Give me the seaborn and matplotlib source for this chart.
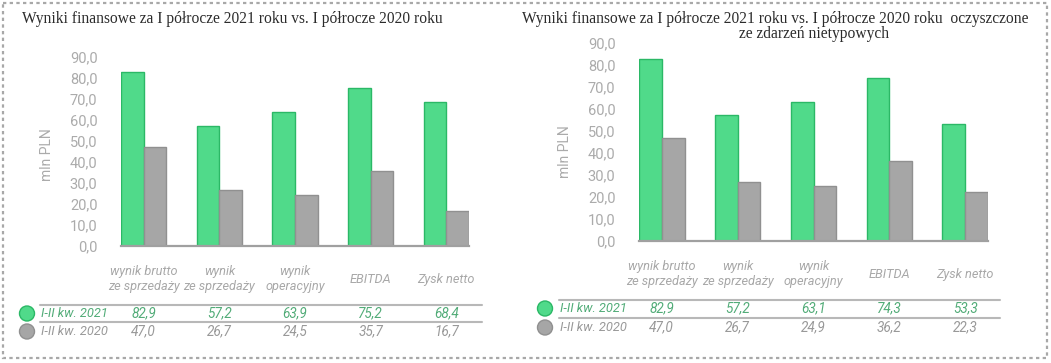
import matplotlib
matplotlib.use("Agg")
import matplotlib.pyplot as plt
import matplotlib.transforms as mtransforms
from matplotlib.patches import Circle, Rectangle
from matplotlib.ticker import FuncFormatter
import numpy as np
import pandas as pd
import seaborn as sns

# data
categories = ["wynik brutto\nze sprzedaży", "wynik\nze sprzedaży", "wynik\noperacyjny", "EBITDA", "Zysk netto"]
series_names = ["I-II kw. 2021", "I-II kw. 2020"]
left_2021 = [82.9, 57.2, 63.9, 75.2, 68.4]
left_2020 = [47.0, 26.7, 24.5, 35.7, 16.7]
right_2021 = [82.9, 57.2, 63.1, 74.3, 53.3]
right_2020 = [47.0, 26.7, 24.9, 36.2, 22.3]
left_title = "Wyniki finansowe za I półrocze 2021 roku vs. I półrocze 2020 roku"
right_title_1 = "Wyniki finansowe za I półrocze 2021 roku vs. I półrocze 2020 roku  oczyszczone"
right_title_2 = "ze zdarzeń nietypowych"
yticks = [0, 10, 20, 30, 40, 50, 60, 70, 80, 90]

GREEN = "#50da8a"
GREEN_EDGE = "#2bb866"
GREEN_TEXT = "#52ac78"
GRAY = "#a6a6a6"
GRAY_EDGE = "#909090"
TICK_GRAY = "#ababab"
LABEL_GRAY = "#a8a8a8"
W, H = 1051, 363

sns.set_theme(style="white")
plt.rcParams["font.family"] = ["Roboto", "DejaVu Sans"]

fig = plt.figure(figsize=(W / 100, H / 100), dpi=100)

# overlay in pixel coordinates for frame, titles and table
ov = fig.add_axes([0, 0, 1, 1])
ov.set_xlim(0, W)
ov.set_ylim(H, 0)
ov.axis("off")
ov.add_patch(Rectangle((3, 3), W - 7, H - 8, fill=False, edgecolor="#a8a8a8",
                       linewidth=1.6, linestyle=(0, (1.5, 1.5))))


def comma(v, pos=None):
    return f"{v:.1f}".replace(".", ",")


def panel(px_left, px_right, px_zero, px_top, v21, v20, ylab_x, ylab_y,
          tbl_x0, tbl_x1, line_y, row1_y, line2_y, row2_y, circ_x):
    ax = fig.add_axes([px_left / W, (H - px_zero) / H,
                       (px_right - px_left) / W, (px_zero - px_top) / H])
    df = pd.DataFrame({
        "kategoria": categories * 2,
        "okres": [series_names[0]] * 5 + [series_names[1]] * 5,
        "wartosc": v21 + v20,
    })
    sns.barplot(data=df, x="kategoria", y="wartosc", hue="okres",
                palette=[GREEN, GRAY], width=0.6, ax=ax, legend=False,
                saturation=1, linewidth=1)
    for cont, edge in zip(ax.containers, [GREEN_EDGE, GRAY_EDGE]):
        for bar in cont:
            bar.set_edgecolor(edge)
    ax.set_xlim(-0.3, 4.3)
    ax.set_ylim(0, 90)
    ax.set_yticks(yticks)
    ax.yaxis.set_major_formatter(FuncFormatter(comma))
    ax.set_xlabel("")
    ax.set_ylabel("")
    for s in ["top", "right", "left"]:
        ax.spines[s].set_visible(False)
    ax.spines["bottom"].set_color("#a0a0a0")
    ax.spines["bottom"].set_linewidth(1.6)
    ax.tick_params(axis="y", length=0, pad=17, labelsize=10.5, labelcolor=TICK_GRAY)
    ax.tick_params(axis="x", length=0, pad=24, labelsize=9.2, labelcolor=LABEL_GRAY)
    for lab in ax.get_xticklabels():
        lab.set_fontstyle("italic")
        lab.set_verticalalignment("center")
        lab.set_linespacing(1.2)

    ov.text(ylab_x, ylab_y, "mln PLN", rotation=90, ha="center", va="center",
            fontsize=10, color=TICK_GRAY)

    # table under the chart
    tr = mtransforms.blended_transform_factory(ax.transData, ov.transData)
    for y in (line_y, line2_y):
        ov.plot([tbl_x0, tbl_x1], [y, y], color="#b8b8b8", linewidth=1.5)
    rows = [(row1_y, v21, GREEN_TEXT, GREEN, GREEN_EDGE, series_names[0]),
            (row2_y, v20, "#999999", GRAY, GRAY_EDGE, series_names[1])]
    for y, vals, tcol, fcol, ecol, name in rows:
        ov.add_patch(Circle((circ_x, y), 7.5, facecolor=fcol, edgecolor=ecol, linewidth=1))
        ov.text(tbl_x0 + 1, y, name, ha="left", va="center", fontsize=9.3,
                fontstyle="italic", color=tcol)
        for i, v in enumerate(vals):
            ax.text(i, y, comma(v), transform=tr, ha="center", va="center",
                    fontsize=9.8, fontstyle="italic", color=tcol, clip_on=False)
    return ax


panel(121, 469, 246, 57, left_2021, left_2020, 47, 155,
      40, 482, 305, 313.5, 322, 331.5, 27)
panel(639, 988, 241, 43, right_2021, right_2020, 565, 152,
      559, 1000, 300, 308.5, 318, 327.5, 545)

serif = ["Liberation Serif", "DejaVu Serif"]
ov.text(22, 19, left_title, ha="left", va="center", fontsize=11.2,
        family=serif, color="#2b2b2b")
ov.text(775, 19, right_title_1, ha="center", va="center", fontsize=11.2,
        family=serif, color="#2b2b2b")
ov.text(814, 34, right_title_2, ha="center", va="center", fontsize=11.2,
        family=serif, color="#2b2b2b")

fig.savefig("out.png", dpi=100)
